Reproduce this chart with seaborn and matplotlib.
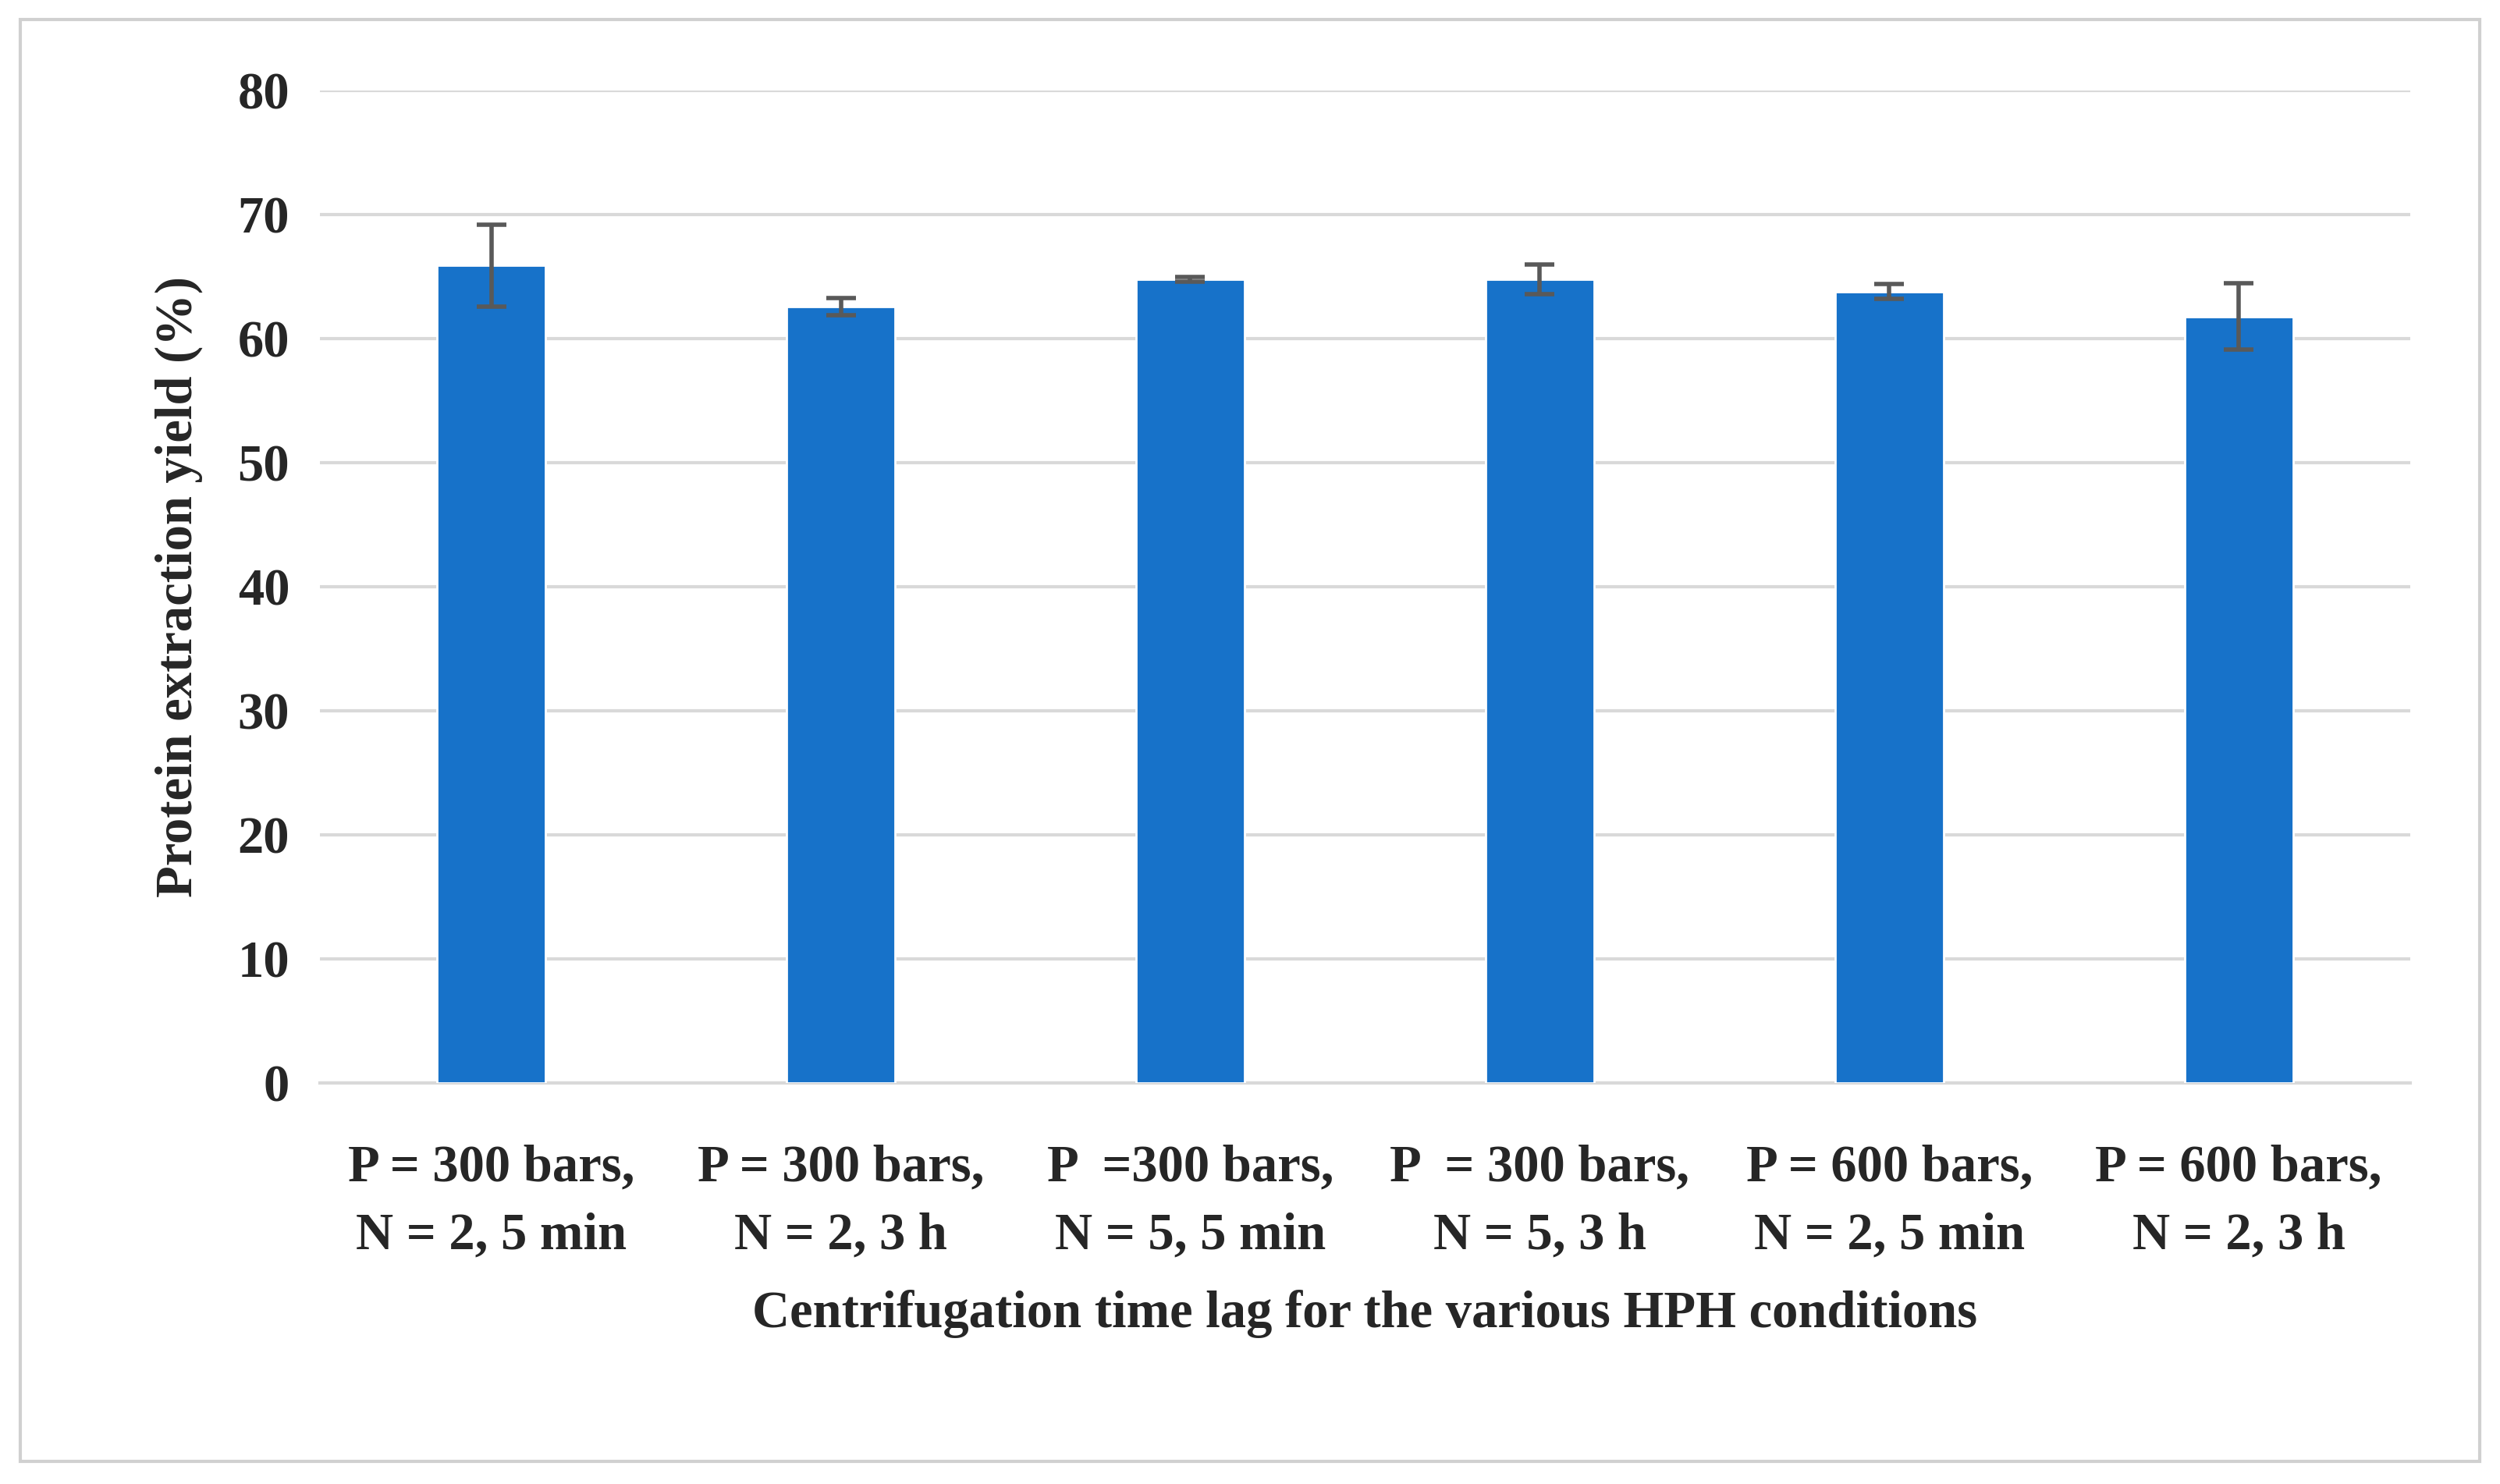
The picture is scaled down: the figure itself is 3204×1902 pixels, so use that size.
import matplotlib
matplotlib.use("Agg")
import matplotlib.pyplot as plt
import seaborn as sns
import pandas as pd
from matplotlib.patches import Rectangle

# Data
conditions = ["P = 300 bars,\nN = 2, 5 min", "P = 300 bars,\nN = 2, 3 h",
              "P  =300 bars,\nN = 5, 5 min", "P  = 300 bars,\nN = 5, 3 h",
              "P = 600 bars,\nN = 2, 5 min", "P = 600 bars,\nN = 2, 3 h"]
yield_pct = [65.9, 62.6, 64.8, 64.8, 63.8, 61.8]
yield_err = [3.3, 0.7, 0.2, 1.2, 0.6, 2.7]

df = pd.DataFrame({"cond": conditions, "yield": yield_pct})

sns.set_style("white")
plt.rcParams["font.family"] = ["Liberation Serif", "DejaVu Serif"]
plt.rcParams["font.weight"] = "bold"

fig = plt.figure(figsize=(16.02, 9.51), dpi=200)
ax = fig.add_axes([0.128, 0.270, 0.836, 0.669])

sns.barplot(data=df, x="cond", y="yield", color="#1772C9", width=0.31,
            saturation=1, ax=ax, zorder=3)
ax.errorbar(range(len(conditions)), yield_pct, yerr=yield_err, fmt="none",
            ecolor="#595959", elinewidth=2, capsize=7, capthick=2, zorder=4)

ax.set_xlim(-0.49, 5.49)
ax.set_ylim(0, 80)
ax.set_yticks(range(0, 81, 10))
ax.yaxis.grid(True, color="#d9d9d9", linewidth=1.5, zorder=0)
for s in ["top", "right", "left"]:
    ax.spines[s].set_visible(False)
ax.spines["bottom"].set_color("#d9d9d9")
ax.spines["bottom"].set_linewidth(1.5)
ax.tick_params(axis="both", length=0, labelsize=24, pad=14)
ax.tick_params(axis="x", pad=28)
for lbl in ax.get_xticklabels():
    lbl.set_linespacing(1.55)
ax.set_xlabel("Centrifugation time lag for the various HPH conditions",
              fontsize=24, fontweight="bold", labelpad=14)
ax.set_ylabel("Protein extraction yield (%)", fontsize=24, fontweight="bold",
              labelpad=16)

fig.patches.append(Rectangle((0.008, 0.015), 0.984, 0.972, transform=fig.transFigure,
                             fill=False, edgecolor="#d0d0d0", linewidth=1.5))

fig.savefig("out.png", dpi=200)
